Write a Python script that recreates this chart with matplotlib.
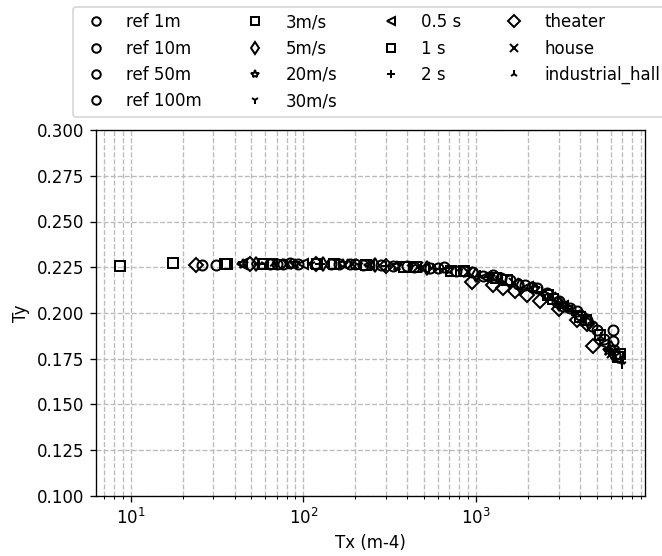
import matplotlib
matplotlib.use("Agg")
import matplotlib.pyplot as plt
from matplotlib.ticker import MultipleLocator, FormatStrFormatter

# reference distances (circles)
ref_1m_x = [31, 64, 93, 145, 222, 400, 650, 950, 1260, 1920, 2930, 3830, 5000, 6230]
ref_1m_y = [0.2265, 0.2268, 0.2270, 0.2268, 0.2262, 0.2255, 0.2250, 0.2224, 0.2206, 0.2153, 0.2060, 0.2012, 0.1907, 0.1907]
ref_10m_x = [26, 70, 160, 280, 540, 850, 1570, 2245, 3200, 4380, 6230]
ref_10m_y = [0.2262, 0.2268, 0.2268, 0.2260, 0.2245, 0.2228, 0.2180, 0.2136, 0.2040, 0.1960, 0.1845]
ref_50m_x = [76, 186, 330, 600, 1100, 1750, 2565, 3500, 4700, 6300]
ref_50m_y = [0.2270, 0.2268, 0.2258, 0.2245, 0.2200, 0.2160, 0.2110, 0.2025, 0.1930, 0.1800]
ref_100m_x = [84, 200, 434, 760, 1400, 2100, 3000, 4000, 5500, 6400]
ref_100m_y = [0.2272, 0.2268, 0.2252, 0.2230, 0.2190, 0.2140, 0.2065, 0.1990, 0.1860, 0.1770]

# wind speeds
v3_x = [8.67, 17.5, 35, 58, 120, 230, 450, 850, 1500, 2600, 4000, 5200, 6830]
v3_y = [0.2255, 0.2275, 0.2268, 0.2270, 0.2268, 0.2262, 0.2250, 0.2230, 0.2180, 0.2100, 0.1980, 0.1880, 0.1775]
v5_x = [53, 130, 260, 520, 1000, 1800, 3000, 4500, 6000]
v5_y = [0.2268, 0.2270, 0.2262, 0.2245, 0.2210, 0.2150, 0.2050, 0.1950, 0.1810]
v20_x = [45, 90, 170, 350, 700, 1200, 2200, 3400, 5800]
v20_y = [0.2268, 0.2270, 0.2268, 0.2255, 0.2235, 0.2195, 0.2130, 0.2030, 0.1790]
v30_x = [60, 110, 210, 420, 800, 1350, 2500, 3700, 7000]
v30_y = [0.2270, 0.2270, 0.2265, 0.2250, 0.2228, 0.2185, 0.2100, 0.2000, 0.1720]

# reverberation times
t05_x = [44, 100, 240, 500, 1120, 2000, 3200, 5500]
t05_y = [0.2268, 0.2270, 0.2262, 0.2248, 0.2197, 0.2140, 0.2040, 0.1830]
t1_x = [36, 66, 150, 380, 720, 1300, 2800, 4300, 6600]
t1_y = [0.2268, 0.2270, 0.2268, 0.2252, 0.2232, 0.2190, 0.2075, 0.1960, 0.1760]
t2_x = [55, 125, 300, 620, 1180, 2400, 3600, 5900]
t2_y = [0.2270, 0.2270, 0.2258, 0.2242, 0.2197, 0.2115, 0.2010, 0.1790]

# rooms
theater_x = [24, 49, 119, 300, 950, 1260, 1440, 1680, 1960, 2350, 3000, 3830, 4380, 4780]
theater_y = [0.2262, 0.2268, 0.2268, 0.2258, 0.2170, 0.2153, 0.2136, 0.2118, 0.2100, 0.2065, 0.2020, 0.1960, 0.1940, 0.1819]
house_x = [80, 190, 460, 900, 1650, 2700, 4100, 6100]
house_y = [0.2270, 0.2268, 0.2250, 0.2226, 0.2165, 0.2090, 0.1975, 0.1780]
hall_x = [68, 240, 560, 1050, 2050, 3300, 5300, 6900]
hall_y = [0.2270, 0.2264, 0.2246, 0.2205, 0.2135, 0.2035, 0.1870, 0.1740]

series = [
    ("ref 1m", "o", ref_1m_x, ref_1m_y),
    ("ref 10m", "o", ref_10m_x, ref_10m_y),
    ("ref 50m", "o", ref_50m_x, ref_50m_y),
    ("ref 100m", "o", ref_100m_x, ref_100m_y),
    ("3m/s", "s", v3_x, v3_y),
    ("5m/s", "d", v5_x, v5_y),
    ("20m/s", "*", v20_x, v20_y),
    ("30m/s", "1", v30_x, v30_y),
    ("0.5 s", "<", t05_x, t05_y),
    ("1 s", "s", t1_x, t1_y),
    ("2 s", "+", t2_x, t2_y),
    ("theater", "D", theater_x, theater_y),
    ("house", "x", house_x, house_y),
    ("industrial_hall", "2", hall_x, hall_y),
]

fig = plt.figure(figsize=(662 / 120, 556 / 120), dpi=120)
ax = fig.add_axes([96 / 662, 1 - 496 / 556, (645 - 96) / 662, (496 - 130) / 556])

for label, marker, x, y in series:
    ax.plot(x, y, linestyle="none", marker=marker, mfc="none", mec="black",
            mew=1.2, color="black", label=label)

ax.set_xscale("log")
ax.set_xlim(6.3, 9500)
ax.set_ylim(0.1, 0.3)
ax.yaxis.set_major_locator(MultipleLocator(0.025))
ax.yaxis.set_major_formatter(FormatStrFormatter("%.3f"))
ax.grid(True, which="both", linestyle="--", color="#bbbbbb")
ax.set_xlabel("Tx (m-4)")
ax.set_ylabel("Ty")

fig.legend(ncol=4, loc="lower left", bbox_to_anchor=(73 / 662, 1 - 117 / 556),
           borderaxespad=0, markerscale=0.85, columnspacing=2.2)

fig.savefig("out.png", dpi=120)
